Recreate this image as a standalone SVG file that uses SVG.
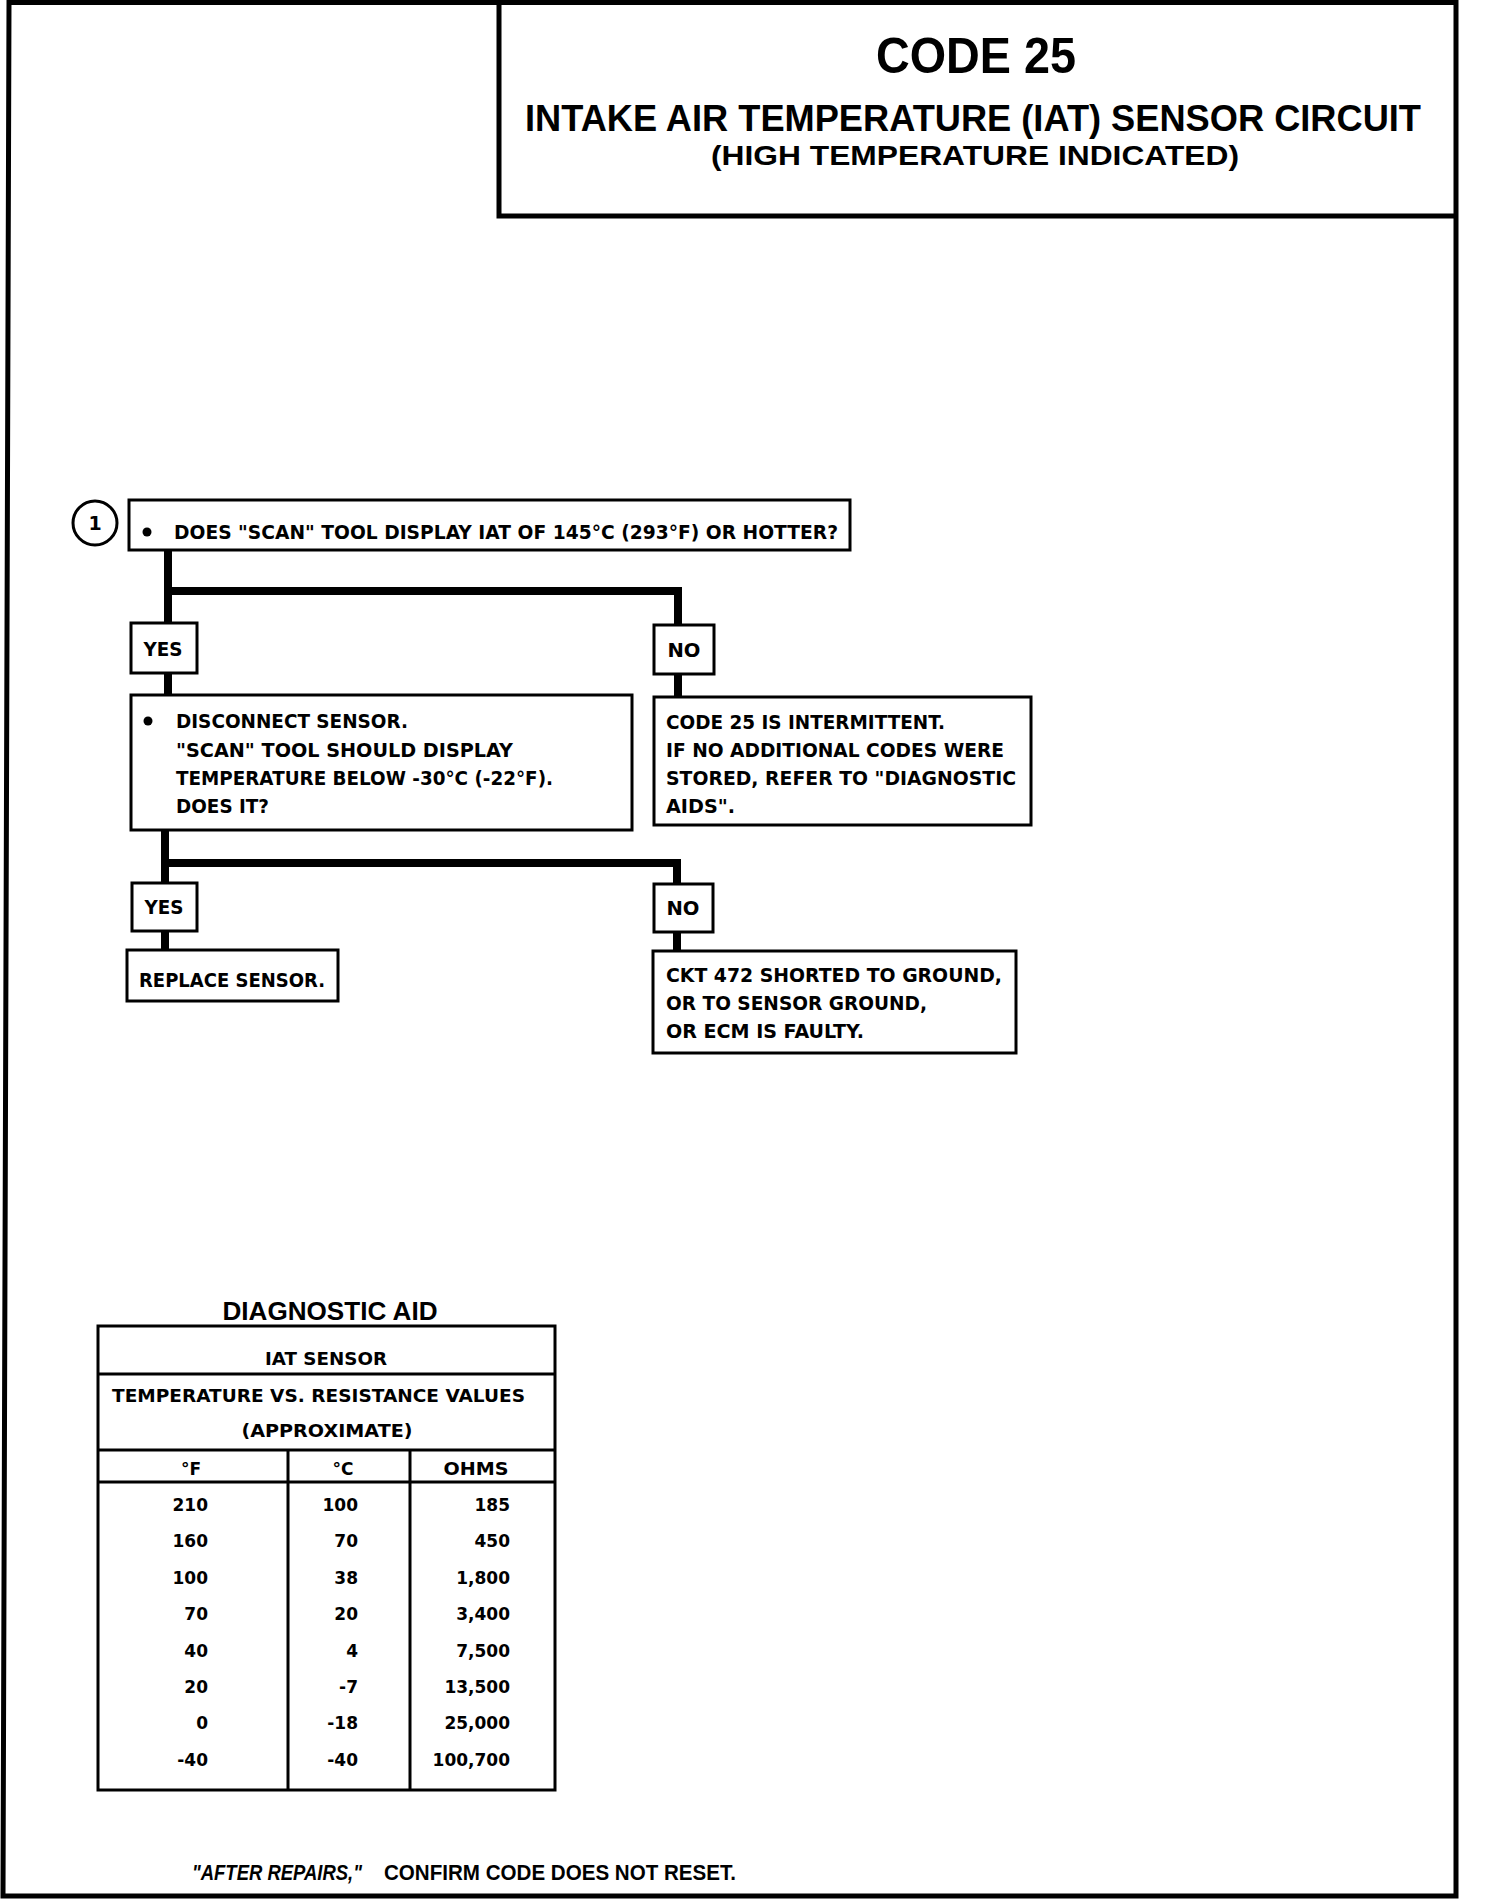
<svg xmlns="http://www.w3.org/2000/svg" width="1504" height="1902" viewBox="0 0 1504 1902">
<style>
.frame{fill:none;stroke:#000;stroke-width:5;stroke-linejoin:miter}
.box{fill:#fff;stroke:#000;stroke-width:3}
.tbl{fill:none;stroke:#000;stroke-width:3}
.conn{fill:none;stroke:#000;stroke-width:8;stroke-linejoin:miter;stroke-linecap:butt}
.hd{font-family:"Liberation Sans",Arial,sans-serif;font-weight:bold;fill:#000}
.bx{font-family:"DejaVu Sans","Liberation Sans",sans-serif;font-weight:bold;font-size:19px;fill:#000}
.tb{font-family:"DejaVu Sans","Liberation Sans",sans-serif;font-weight:bold;font-size:17px;fill:#000}
</style>
<rect width="1504" height="1902" fill="#fff"/>

<g id="frame">
<path class="frame" d="M9,2.5 H1456 V1896 H3 Z"/>
</g>

<g id="title">
<path d="M499,3 V216 H1456" fill="none" stroke="#000" stroke-width="5"/>
<text class="hd" x="976" y="73" font-size="50" text-anchor="middle" textLength="200" lengthAdjust="spacingAndGlyphs">CODE 25</text>
<text class="hd" x="973" y="131" font-size="36" text-anchor="middle" textLength="896" lengthAdjust="spacingAndGlyphs">INTAKE AIR TEMPERATURE (IAT) SENSOR CIRCUIT</text>
<text class="hd" x="975" y="165" font-size="28" text-anchor="middle" textLength="528" lengthAdjust="spacingAndGlyphs">(HIGH TEMPERATURE INDICATED)</text>
</g>

<g id="connectors">
<path class="conn" d="M168,550 V623"/>
<path class="conn" d="M168,591 H678 V625"/>
<path class="conn" d="M168,673 V695"/>
<path class="conn" d="M678,674 V697"/>
<path class="conn" d="M165,830 V883"/>
<path class="conn" d="M165,863 H677 V884"/>
<path class="conn" d="M165,931 V950"/>
<path class="conn" d="M677,932 V951"/>
</g>

<g id="step1">
<circle cx="95" cy="523" r="22" fill="#fff" stroke="#000" stroke-width="3"/>
<text class="bx" x="95" y="530" text-anchor="middle" font-size="19">1</text>
</g>

<g id="q1">
<rect class="box" x="129" y="500" width="721" height="50"/>
<circle cx="147" cy="532" r="4.5" fill="#000"/>
<text class="bx" x="174" y="539" textLength="664" lengthAdjust="spacingAndGlyphs">DOES "SCAN" TOOL DISPLAY IAT OF 145°C (293°F)  OR HOTTER?</text>
</g>

<g id="yes1">
<rect class="box" x="131" y="623" width="66" height="50"/>
<text class="bx" x="163" y="656" text-anchor="middle" textLength="39" lengthAdjust="spacingAndGlyphs">YES</text>
</g>

<g id="no1">
<rect class="box" x="654" y="625" width="60" height="49"/>
<text class="bx" x="684" y="657" text-anchor="middle" textLength="33" lengthAdjust="spacingAndGlyphs">NO</text>
</g>

<g id="q2">
<rect class="box" x="131" y="695" width="501" height="135"/>
<circle cx="148" cy="721" r="4.5" fill="#000"/>
<text class="bx" x="176" y="728" textLength="232" lengthAdjust="spacingAndGlyphs">DISCONNECT SENSOR.</text>
<text class="bx" x="176" y="757" textLength="337" lengthAdjust="spacingAndGlyphs">"SCAN" TOOL SHOULD DISPLAY</text>
<text class="bx" x="176" y="785" textLength="377" lengthAdjust="spacingAndGlyphs">TEMPERATURE BELOW -30°C (-22°F).</text>
<text class="bx" x="176" y="813" textLength="93" lengthAdjust="spacingAndGlyphs">DOES IT?</text>
</g>

<g id="intermittent">
<rect class="box" x="654" y="697" width="377" height="128"/>
<text class="bx" x="666" y="729" textLength="279" lengthAdjust="spacingAndGlyphs">CODE 25 IS INTERMITTENT.</text>
<text class="bx" x="666" y="757" textLength="338" lengthAdjust="spacingAndGlyphs">IF NO ADDITIONAL CODES WERE</text>
<text class="bx" x="666" y="785" textLength="350" lengthAdjust="spacingAndGlyphs">STORED, REFER TO  "DIAGNOSTIC</text>
<text class="bx" x="666" y="813" textLength="69" lengthAdjust="spacingAndGlyphs">AIDS".</text>
</g>

<g id="yes2">
<rect class="box" x="132" y="883" width="65" height="48"/>
<text class="bx" x="164" y="914" text-anchor="middle" textLength="39" lengthAdjust="spacingAndGlyphs">YES</text>
</g>

<g id="no2">
<rect class="box" x="654" y="884" width="59" height="48"/>
<text class="bx" x="683" y="915" text-anchor="middle" textLength="33" lengthAdjust="spacingAndGlyphs">NO</text>
</g>

<g id="replace">
<rect class="box" x="127" y="950" width="211" height="51"/>
<text class="bx" x="139" y="987" textLength="186" lengthAdjust="spacingAndGlyphs">REPLACE SENSOR.</text>
</g>

<g id="ckt472">
<rect class="box" x="653" y="951" width="363" height="102"/>
<text class="bx" x="666" y="982" textLength="336" lengthAdjust="spacingAndGlyphs">CKT 472  SHORTED TO GROUND,</text>
<text class="bx" x="666" y="1010" textLength="261" lengthAdjust="spacingAndGlyphs">OR TO SENSOR GROUND,</text>
<text class="bx" x="666" y="1038" textLength="198" lengthAdjust="spacingAndGlyphs">OR ECM IS FAULTY.</text>
</g>

<g id="diagnostic-aid">
<text class="hd" x="330" y="1320" font-size="25" text-anchor="middle" textLength="215" lengthAdjust="spacingAndGlyphs">DIAGNOSTIC AID</text>
<rect class="tbl" x="98" y="1326" width="457" height="464"/>
<path class="tbl" d="M98,1374 H555 M98,1450 H555 M98,1482 H555 M288,1450 V1790 M410,1450 V1790"/>
<text class="tb" x="326" y="1365" text-anchor="middle" textLength="122" lengthAdjust="spacingAndGlyphs">IAT SENSOR</text>
<text class="tb" x="112" y="1402" textLength="413" lengthAdjust="spacingAndGlyphs">TEMPERATURE VS. RESISTANCE VALUES</text>
<text class="tb" x="327" y="1437" text-anchor="middle" textLength="171" lengthAdjust="spacingAndGlyphs">(APPROXIMATE)</text>
<text class="tb" x="191" y="1475" text-anchor="middle">°F</text>
<text class="tb" x="343" y="1475" text-anchor="middle">°C</text>
<text class="tb" x="476" y="1475" text-anchor="middle" textLength="65" lengthAdjust="spacingAndGlyphs">OHMS</text>
<g class="tb" text-anchor="end">
<text x="208" y="1511">210</text><text x="358" y="1511">100</text><text x="510" y="1511">185</text>
<text x="208" y="1547">160</text><text x="358" y="1547">70</text><text x="510" y="1547">450</text>
<text x="208" y="1584">100</text><text x="358" y="1584">38</text><text x="510" y="1584">1,800</text>
<text x="208" y="1620">70</text><text x="358" y="1620">20</text><text x="510" y="1620">3,400</text>
<text x="208" y="1657">40</text><text x="358" y="1657">4</text><text x="510" y="1657">7,500</text>
<text x="208" y="1693">20</text><text x="358" y="1693">-7</text><text x="510" y="1693">13,500</text>
<text x="208" y="1729">0</text><text x="358" y="1729">-18</text><text x="510" y="1729">25,000</text>
<text x="208" y="1766">-40</text><text x="358" y="1766">-40</text><text x="510" y="1766">100,700</text>
</g>
</g>

<g id="footer">
<text class="hd" x="192" y="1880" font-size="22" font-style="italic" textLength="170" lengthAdjust="spacingAndGlyphs">"AFTER REPAIRS,"</text>
<text class="hd" x="384" y="1880" font-size="22" textLength="352" lengthAdjust="spacingAndGlyphs">CONFIRM CODE DOES NOT RESET.</text>
</g>
</svg>
